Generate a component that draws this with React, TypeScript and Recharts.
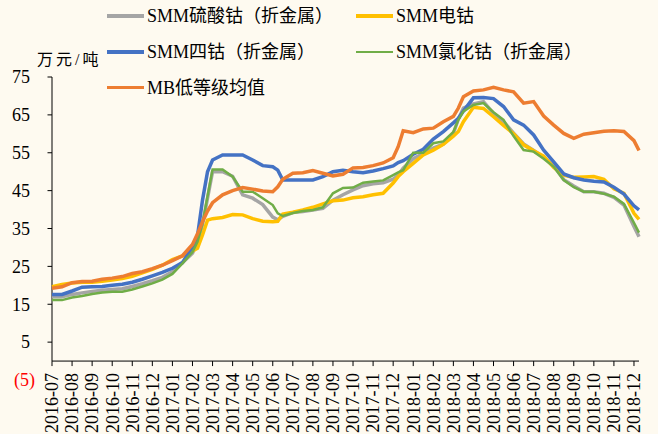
import { LineChart, Line, XAxis, YAxis, ReferenceLine, Legend } from 'recharts';

// months since 2016-07 for each sample (roughly half-monthly, denser on the steep moves)
const pos = [
  0, 0.5, 1, 1.5, 2, 2.5, 3, 3.5, 4, 4.5, 5, 5.5, 6, 6.5,
  7, 7.25, 7.5, 7.75,
  8, 8.5, 9, 9.5, 10, 10.5, 11,
  11.25, 11.5,
  12, 12.5, 13, 13.5, 14, 14.5, 15, 15.5, 16, 16.5, 17,
  17.25, 17.5,
  18, 18.5, 19, 19.5, 20,
  20.25, 20.5,
  21, 21.5, 22, 22.5, 23, 23.5, 24, 24.5, 25, 25.5, 26, 26.5, 27, 27.5, 28, 28.5, 29,
  29.25,
];

const smmSulfate = [
  17.0, 17.0, 17.6, 18.0, 18.4, 18.7, 18.9, 19.1, 19.7, 20.4, 21.2, 22.1, 23.6, 26.0,
  28.5, 31.2, 36.0, 43.0,
  50.0, 50.0, 48.8, 43.9, 43.0, 41.3, 38.0,
  37.3, 38.2,
  39.2, 39.5, 39.9, 40.3, 42.5, 43.9, 45.2, 46.3, 46.8, 47.1, 48.0,
  49.1, 50.9,
  53.4, 54.8, 56.2, 57.3, 60.1,
  63.9, 66.8,
  67.9, 68.5, 65.4, 63.2, 60.2, 57.3, 55.6, 53.8, 51.6, 47.9, 46.2, 44.7, 44.7, 44.3, 43.2, 41.2, 35.5,
  32.8,
];

const smmMetal = [
  19.6, 20.2, 20.6, 20.8, 20.8, 21.1, 21.4, 21.8, 22.4, 23.3, 24.2, 25.3, 26.8, 27.8,
  29.1, 29.8, 33.3, 37.2,
  37.6, 37.9, 38.7, 38.6, 37.6, 36.9, 36.8,
  36.9, 38.8,
  39.3, 39.9, 40.6, 41.5, 42.3, 42.5, 43.1, 43.4, 43.9, 44.3, 47.0,
  48.7, 50.0,
  52.2, 54.4, 55.7, 57.2, 59.4,
  60.6, 63.2,
  67.0, 66.7, 64.5, 62.2, 60.0, 57.1, 55.5, 54.1, 51.1, 49.1, 48.5, 48.6, 48.7, 48.0, 45.5, 44.3, 39.0,
  37.4,
];

const smmTetroxide = [
  17.6, 17.6, 18.5, 19.5, 19.6, 19.7, 20.0, 20.3, 20.8, 21.6, 22.5, 23.4, 24.5, 26.0,
  30.2, 33.0, 42.5, 50.0,
  53.1, 54.4, 54.4, 54.4, 53.1, 51.6, 51.3,
  50.4, 47.8,
  47.8, 47.8, 47.8, 48.7, 50.0, 50.4, 50.0, 49.7, 50.2, 50.8, 51.5,
  52.4, 52.9,
  54.6, 55.9, 58.6, 60.6, 62.9,
  64.1, 66.0,
  69.5, 69.6, 69.3, 67.2, 63.7, 62.3, 59.7, 55.7, 52.6, 49.4, 48.4, 47.8, 47.5, 47.3, 45.9, 44.1, 41.0,
  39.9,
];

const smmChloride = [
  16.1, 16.1, 16.8, 17.2, 17.7, 18.1, 18.3, 18.3, 18.9, 19.7, 20.5, 21.5, 23.0, 25.8,
  28.8, 31.5, 36.3, 43.5,
  50.6, 50.6, 48.7, 44.7, 44.7, 43.0, 41.2,
  39.0, 38.3,
  39.1, 39.6, 39.9, 40.6, 44.3, 45.7, 45.8, 47.1, 47.4, 47.7, 49.1,
  49.8, 50.4,
  55.0, 55.0, 57.5, 58.0, 60.5,
  63.7, 65.9,
  67.6, 68.1, 65.7, 63.7, 59.4, 55.7, 55.3, 53.4, 51.3, 47.8, 45.9, 44.7, 44.7, 44.2, 43.4, 41.5, 36.5,
  33.9,
];

const mbLowGrade = [
  19.2, 19.6, 20.7, 21.0, 21.1, 21.6, 21.9, 22.3, 23.1, 23.6, 24.4, 25.3, 26.5, 27.8,
  30.8, 33.6, 36.8, 39.6,
  41.8, 43.9, 45.0, 45.8, 45.4, 44.9, 44.7,
  46.0, 48.0,
  49.6, 49.7, 50.3, 49.6, 48.9, 49.3, 51.0, 51.1, 51.6, 52.3, 53.7,
  56.6, 60.8,
  60.3, 61.3, 61.5, 63.2, 64.6,
  66.8, 69.8,
  71.3, 71.6, 72.3, 71.6, 71.1, 68.1, 68.5, 64.7, 62.3, 60.1, 58.8, 59.9, 60.3, 60.7, 60.8, 60.6, 58.2,
  55.6,
];

const months = [
  '2016-07', '2016-08', '2016-09', '2016-10', '2016-11', '2016-12',
  '2017-01', '2017-02', '2017-03', '2017-04', '2017-05', '2017-06',
  '2017-07', '2017-08', '2017-09', '2017-10', '2017-11', '2017-12',
  '2018-01', '2018-02', '2018-03', '2018-04', '2018-05', '2018-06',
  '2018-07', '2018-08', '2018-09', '2018-10', '2018-11', '2018-12',
];

const seriesNames = ['SMM硫酸钴（折金属）', 'SMM电钴', 'SMM四钴（折金属）', 'SMM氯化钴（折金属）', 'MB低等级均值'];

const yTicks = [-5, 5, 15, 25, 35, 45, 55, 65, 75];

const data = pos.map((t, i) => ({
  t,
  sulfate: smmSulfate[i],
  metal: smmMetal[i],
  tetroxide: smmTetroxide[i],
  chloride: smmChloride[i],
  mb: mbLowGrade[i],
}));

const W = 658;
const H = 434;
const MARGIN = { top: 77, right: 19, bottom: 0, left: 0 };
const X_AXIS_H = 54;
const PLOT_H = H - MARGIN.top - MARGIN.bottom - X_AXIS_H;
// x axis crosses at 0, which sits above the bottom of the plot (-5)
const ZERO_OFFSET = (PLOT_H * 5) / 80;

const FONT = "'Liberation Serif', 'Noto Sans CJK SC', serif";
const BG = '#FEFAF0';

const XTick = ({ x, y, payload }: any) => {
  const y0 = y - ZERO_OFFSET;
  const ty = y0 + 12;
  return (
    <g>
      <line x1={x} x2={x} y1={y0} y2={y0 + 5} stroke="#000" />
      <text
        x={x}
        y={ty}
        dy="0.35em"
        textAnchor="end"
        transform={`rotate(-90, ${x}, ${ty})`}
        fontSize={18}
        fontFamily={FONT}
        fill="#000"
      >
        {months[payload.value]}
      </text>
    </g>
  );
};

const YTick = ({ x, y, payload }: any) => {
  const v = payload.value;
  const neg = v < 0;
  return (
    <g>
      {!neg && <line x1={x - 4.5} x2={x} y1={y} y2={y} stroke="#000" />}
      <text
        x={neg ? x - 17 : x - 22}
        y={y}
        dy="0.35em"
        textAnchor="end"
        fontSize={18}
        fontFamily={FONT}
        fill={neg ? '#FF0000' : '#000'}
      >
        {neg ? `(${-v})` : v}
      </text>
    </g>
  );
};

const LegendContent = ({ payload }: any) => {
  const items = [...(payload || [])].sort(
    (a: any, b: any) => seriesNames.indexOf(a.value) - seriesNames.indexOf(b.value)
  );
  return (
    <div style={{ position: 'relative', width: W, height: 110 }}>
      {items.map((entry: any, i: number) => {
        const col = i % 2;
        const row = Math.floor(i / 2);
        const sw = entry.payload?.strokeWidth ?? 3.5;
        return (
          <div
            key={entry.value}
            style={{
              position: 'absolute',
              left: col ? 356 : 107,
              top: 16 + row * 35.8 - 13,
              height: 26,
              display: 'flex',
              alignItems: 'center',
              whiteSpace: 'nowrap',
            }}
          >
            <span style={{ display: 'inline-block', width: 37, height: sw, background: entry.color }} />
            <span style={{ marginLeft: 3, fontSize: 18, fontFamily: FONT, color: '#000', lineHeight: '26px' }}>
              {entry.value}
            </span>
          </div>
        );
      })}
    </div>
  );
};

export default function App() {
  return (
    <div style={{ position: 'absolute', left: 0, top: 0, width: W, height: H, background: BG, overflow: 'hidden' }}>
      <div
        style={{
          position: 'absolute',
          left: 37,
          top: 49,
          fontSize: 16,
          letterSpacing: 3,
          fontFamily: FONT,
          color: '#000',
          lineHeight: '22px',
          whiteSpace: 'nowrap',
        }}
      >
        万元/吨
      </div>
      <LineChart width={W} height={H} data={data} margin={MARGIN}>
        <XAxis
          type="number"
          dataKey="t"
          domain={[0, 29.25]}
          ticks={months.map((_, i) => i)}
          interval={0}
          height={X_AXIS_H}
          axisLine={false}
          tickLine={false}
          tickSize={0}
          tickMargin={0}
          tick={<XTick />}
        />
        <YAxis
          type="number"
          domain={[-5, 75]}
          ticks={yTicks}
          interval={0}
          width={52}
          axisLine={false}
          tickLine={false}
          tickSize={0}
          tickMargin={0}
          tick={<YTick />}
        />
        <ReferenceLine y={0} stroke="#000" strokeWidth={1} />
        <ReferenceLine segment={[{ x: 0, y: 0 }, { x: 0, y: 75 }]} stroke="#000" strokeWidth={1} />
        <Legend
          layout="horizontal"
          verticalAlign="middle"
          align="center"
          wrapperStyle={{ top: 0, left: 0, width: W, height: 110 }}
          content={<LegendContent />}
        />
        <Line type="linear" dataKey="sulfate" name={seriesNames[0]} stroke="#A5A5A5" strokeWidth={3.5} dot={false} activeDot={false} isAnimationActive={false} />
        <Line type="linear" dataKey="metal" name={seriesNames[1]} stroke="#FFC000" strokeWidth={3.5} dot={false} activeDot={false} isAnimationActive={false} />
        <Line type="linear" dataKey="tetroxide" name={seriesNames[2]} stroke="#4472C4" strokeWidth={3.5} dot={false} activeDot={false} isAnimationActive={false} />
        <Line type="linear" dataKey="chloride" name={seriesNames[3]} stroke="#70AD47" strokeWidth={2.5} dot={false} activeDot={false} isAnimationActive={false} />
        <Line type="linear" dataKey="mb" name={seriesNames[4]} stroke="#ED7D31" strokeWidth={3.5} dot={false} activeDot={false} isAnimationActive={false} />
      </LineChart>
    </div>
  );
}
